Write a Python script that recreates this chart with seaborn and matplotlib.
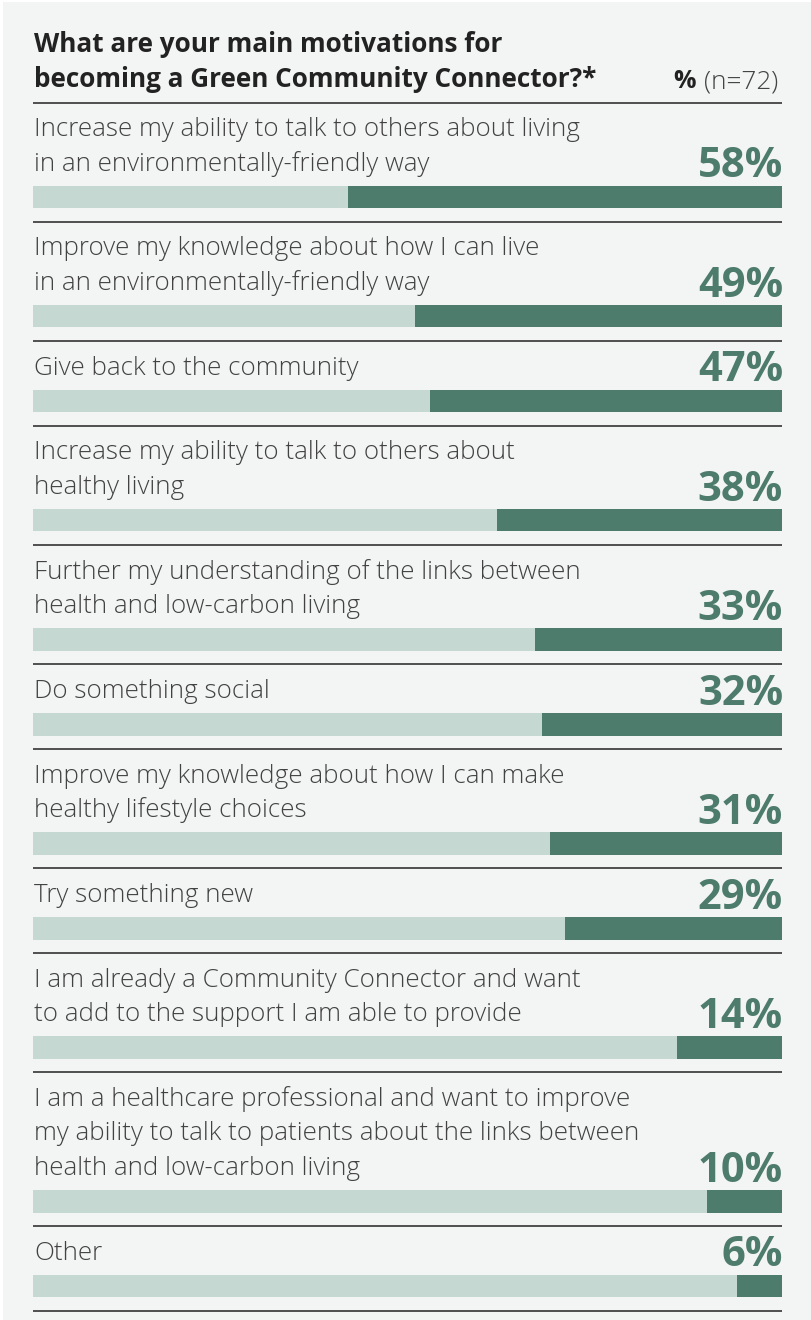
import matplotlib
matplotlib.use("Agg")
import matplotlib.pyplot as plt
import seaborn as sns
import pandas as pd

# ---------------- data ----------------
title_lines = ["What are your main motivations for",
               "becoming a Green Community Connector?*"]
unit_bold = "%"
unit_note = "(n=72)"
labels = [
    "Increase my ability to talk to others about living\nin an environmentally-friendly way",
    "Improve my knowledge about how I can live\nin an environmentally-friendly way",
    "Give back to the community",
    "Increase my ability to talk to others about\nhealthy living",
    "Further my understanding of the links between\nhealth and low-carbon living",
    "Do something social",
    "Improve my knowledge about how I can make\nhealthy lifestyle choices",
    "Try something new",
    "I am already a Community Connector and want\nto add to the support I am able to provide",
    "I am a healthcare professional and want to improve\nmy ability to talk to patients about the links between\nhealth and low-carbon living",
    "Other",
]
values = [58, 49, 47, 38, 33, 32, 31, 29, 14, 10, 6]

# ---------------- style ----------------
W, H, DPI = 811, 1320, 100
BG = "#f3f5f4"
LIGHT = "#c5d8d2"
DARK = "#4d7b6c"
TXT = "#424242"
FAM = ["Open Sans", "DejaVu Sans"]

sns.set_theme(style="white")
plt.rcParams["font.family"] = FAM

df = pd.DataFrame({"label": labels, "value": values})
df["full"] = 100

fig = plt.figure(figsize=(W / DPI, H / DPI), dpi=DPI, facecolor="white")
main = fig.add_axes([0, 0, 1, 1])
main.set_xlim(0, W)
main.set_ylim(H, 0)
main.axis("off")
main.add_patch(plt.Rectangle((3, 2), W - 3, H - 2, facecolor=BG, edgecolor="none", zorder=0))

X0, X1 = 33, 782

# title
for k, line in enumerate(title_lines):
    main.text(34, 51.7 + 35 * k, line, fontsize=18.8, fontweight="bold",
              color="#222222", ha="left", va="baseline")
main.text(778, 88.5, unit_note, fontsize=18.8, fontweight="light", color="#444444",
          ha="right", va="baseline")
main.text(696, 88.5, unit_bold, fontsize=18, fontweight="bold", color="#222222",
          ha="right", va="baseline")

y_sep = 102.5
main.plot([X0, X1], [y_sep, y_sep], color="#333333", lw=1.2, solid_capstyle="butt")

BAR_H = 22.5
for i, row in df.iterrows():
    lines = row["label"].split("\n")
    n = len(lines)
    row_h = 50.25 + 34.5 * n
    y0 = y_sep
    y_next = y0 + row_h
    for k, line in enumerate(lines):
        main.text(34, y0 + 33.7 + 34.5 * k, line, fontsize=18.75, fontweight="light",
                  color=TXT, ha="left", va="baseline")
    bar_bottom = y_next - 13.5
    bar_top = bar_bottom - BAR_H
    main.text(X1 + 1, bar_top - 8.3, f"{row['value']}%", fontsize=30, fontweight="bold",
              color=DARK, ha="right", va="baseline")
    main.plot([X0, X1], [y_next, y_next], color="#333333", lw=1.2, solid_capstyle="butt")

    bax = fig.add_axes([X0 / W, 1 - bar_bottom / H, (X1 - X0) / W, BAR_H / H])
    sub = df.iloc[[i]]
    sns.barplot(data=sub, x="full", y="label", orient="h", color=LIGHT, saturation=1,
                width=1, errorbar=None, linewidth=0, ax=bax)
    sns.barplot(data=sub, x="value", y="label", orient="h", color=DARK, saturation=1,
                width=1, errorbar=None, linewidth=0, ax=bax)
    bax.set_xlim(100, 0)
    bax.set_ylim(0.5, -0.5)
    bax.axis("off")
    y_sep = y_next

fig.savefig("out.png", dpi=DPI, facecolor="white")
